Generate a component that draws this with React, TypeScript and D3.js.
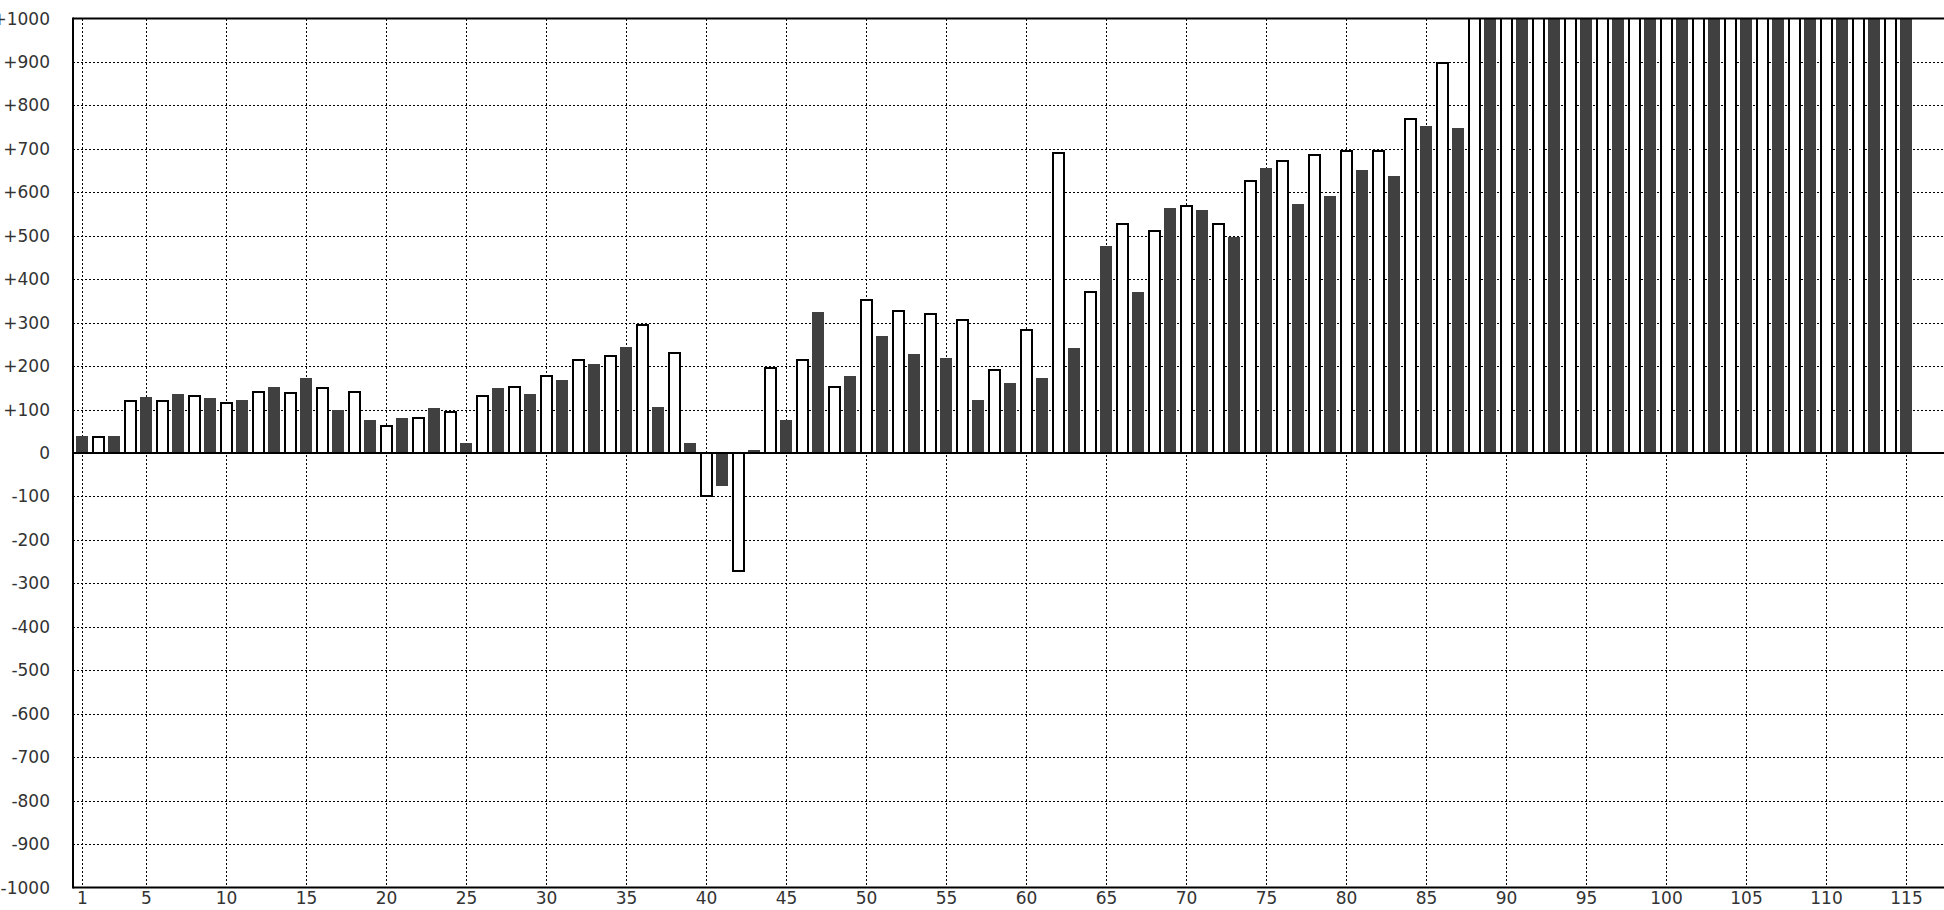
import React from "react";
import * as d3 from "d3";

// Bar values per category 1..115 (odd categories = dark series, even = white series).
// Values above +1000 run off the top of the chart.
const values: number[] = [
  38, 37, 38, 120, 130, 120, 135, 132, 126, 114,
  121, 141, 153, 137, 172, 150, 98, 141, 75, 63,
  80, 81, 103, 95, 24, 132, 149, 151, 135, 178,
  167, 215, 204, 224, 245, 294, 107, 229, 24, -100,
  -77, -271, 6, 196, 75, 215, 324, 151, 177, 353,
  269, 326, 227, 321, 218, 307, 121, 192, 162, 284,
  172, 690, 241, 371, 476, 528, 370, 510, 563, 569,
  559, 528, 496, 625, 656, 671, 573, 685, 591, 695,
  651, 695, 637, 768, 752, 897, 748, 1100, 1100, 1100,
  1100, 1100, 1100, 1100, 1100, 1100, 1100, 1100, 1100, 1100,
  1100, 1100, 1100, 1100, 1100, 1100, 1100, 1100, 1100, 1100,
  1100, 1100, 1100, 1100, 1100,
];

const xTickLabels: number[] = [1, 5, 10, 15, 20, 25, 30, 35, 40, 45, 50, 55, 60, 65, 70, 75, 80, 85, 90, 95, 100, 105, 110, 115];
const yTickValues: number[] = [1000, 900, 800, 700, 600, 500, 400, 300, 200, 100, 0, -100, -200, -300, -400, -500, -600, -700, -800, -900, -1000];

const W = 1944;
const H = 910;
const LEFT = 73;
const TOP = 18.5;
const BOTTOM = 887.5;
const FONT = "'DejaVu Sans', 'Liberation Sans', sans-serif";
const DARK = "#404040";

function fmt(v: number): string {
  if (v > 0) return "+" + v;
  return String(v);
}

export default function App() {
  const x = d3.scaleLinear().domain([1, 115]).range([82.5, 82.5 + 114 * 16]);
  const y = d3.scaleLinear().domain([-1000, 1000]).range([BOTTOM, TOP]);
  const y0 = Math.round(y(0));

  return (
    <svg
      width={W}
      height={H}
      viewBox={`0 0 ${W} ${H}`}
      style={{ position: "absolute", left: 0, top: 0, display: "block", background: "#fff" }}
    >
      <defs>
        <clipPath id="plotClip">
          <rect x={LEFT} y={TOP} width={W - LEFT} height={BOTTOM - TOP} />
        </clipPath>
      </defs>
      <rect x={0} y={0} width={W} height={H} fill="#fff" />

      {/* grid */}
      <g stroke="#000" strokeWidth={1} strokeDasharray="2 2" fill="none" shapeRendering="crispEdges">
        {yTickValues
          .filter((t) => t !== 1000 && t !== -1000 && t !== 0)
          .map((t) => {
            const yy = Math.round(y(t)) + 0.5;
            return <line key={"h" + t} x1={LEFT} x2={W} y1={yy} y2={yy} />;
          })}
        {xTickLabels.map((c) => {
          const xx = x(c);
          return <line key={"v" + c} x1={xx} x2={xx} y1={TOP} y2={BOTTOM} />;
        })}
      </g>

      {/* bars */}
      <g clipPath="url(#plotClip)">
        {values.map((v, i) => {
          const c = i + 1;
          const cx = x(c);
          const yv = Math.round(y(v));
          const top = Math.min(yv, y0);
          const h = Math.abs(yv - y0);
          if (c % 2 === 1) {
            return <rect key={c} x={cx - 6.5} y={top} width={12} height={h} fill={DARK} />;
          }
          return (
            <rect key={c} x={cx - 5.5} y={top} width={11} height={h} fill="#fff" stroke="#000" strokeWidth={2} />
          );
        })}
      </g>

      {/* zero line and frame */}
      <line x1={LEFT} x2={W} y1={y0} y2={y0} stroke="#000" strokeWidth={2} />
      <line x1={LEFT} x2={W} y1={TOP} y2={TOP} stroke="#000" strokeWidth={2} />
      <line x1={LEFT} x2={W} y1={BOTTOM} y2={BOTTOM} stroke="#000" strokeWidth={2} />
      <line x1={LEFT} x2={LEFT} y1={TOP - 1} y2={BOTTOM + 1} stroke="#000" strokeWidth={2} />

      {/* y labels */}
      <g fontFamily={FONT} fontSize={17} fill="#333" textAnchor="end">
        {yTickValues.map((t) => (
          <text key={"yl" + t} x={50} y={y(t)} dominantBaseline="central">
            {fmt(t)}
          </text>
        ))}
      </g>

      {/* x labels */}
      <g fontFamily={FONT} fontSize={17} fill="#333" textAnchor="middle">
        {xTickLabels.map((c) => (
          <text key={"xl" + c} x={x(c)} y={898} dominantBaseline="central">
            {c}
          </text>
        ))}
      </g>
    </svg>
  );
}
